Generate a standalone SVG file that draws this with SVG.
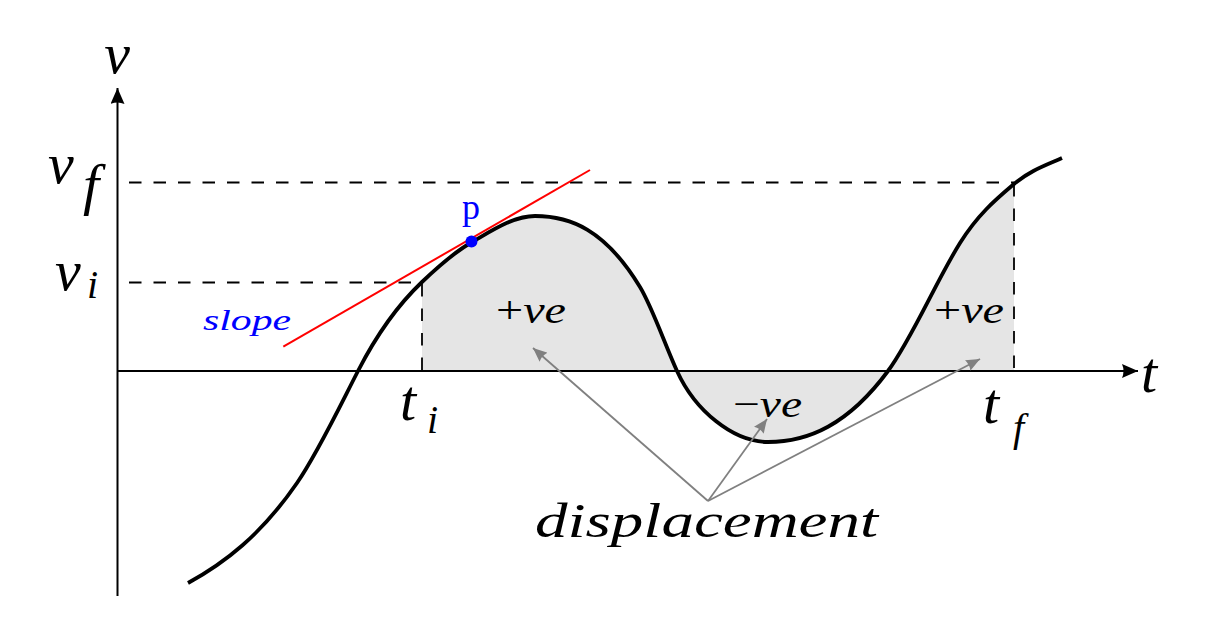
<svg xmlns="http://www.w3.org/2000/svg" width="1219" height="632" viewBox="0 0 1219 632">
<style>
.dash{stroke:#000;stroke-width:1.8;stroke-dasharray:12.5 12;fill:none}
.axis{stroke:#000;stroke-width:2;fill:none}
.curve{stroke:#000;stroke-width:3.8;fill:none;stroke-linejoin:round}
.ptr{stroke:#808080;stroke-width:1.8;fill:none}
.lbl{font-family:"Liberation Serif","DejaVu Serif",serif;font-style:italic}
</style>
<defs>
<marker id="axarr" markerUnits="userSpaceOnUse" markerWidth="18" markerHeight="14" refX="16" refY="7" orient="auto">
<path d="M0,0 L16,7 L0,14 Q3,7 0,0 z" fill="#000"/>
</marker>
<marker id="grarr" markerUnits="userSpaceOnUse" markerWidth="15" markerHeight="12" refX="14" refY="6" orient="auto">
<path d="M0,0 L14,6 L0,12 Q2.5,6 0,0 z" fill="#808080"/>
</marker>
</defs>
<rect width="1219" height="632" fill="#fff"/>

<g id="area">
<path d="M422,371 L422,282 C438.7,266.1 455.3,251.6 472,242 C493,229.9 514,216 535,216 C570,216 605,229.25 640,287 C652.3,307.4 664.7,343.9 677,371 C695,410.6 733,442 768,442 C808,442 848,425 888,371 C912,338.6 936,281.4 960,243 C978,214.2 996,199.3 1014,184 L1014,371 Z" fill="#e5e5e5"/>
</g>

<g id="guides">
<line class="dash" x1="129" y1="182.5" x2="1014" y2="182.5"/>
<line class="dash" x1="129" y1="282.5" x2="422" y2="282.5"/>
<line class="dash" x1="422" y1="284" x2="422" y2="371"/>
<line class="dash" x1="1014" y1="184" x2="1014" y2="371"/>
</g>

<g id="axes">
<line class="axis" x1="117.5" y1="596" x2="117.5" y2="88" marker-end="url(#axarr)"/>
<line class="axis" x1="117" y1="371" x2="1138" y2="371" marker-end="url(#axarr)"/>
</g>

<g id="curve">
<path class="curve" d="M188,583 C224.3,563 260.7,535.6 297,483 C317.3,453.5 337.7,410.6 358,371 C379.3,329.5 400.7,302.2 422,282 C438.7,266.1 455.3,251.6 472,242 C493,229.9 514,216 535,216 C570,216 605,229.25 640,287 C652.3,307.4 664.7,343.9 677,371 C695,410.6 733,442 768,442 C808,442 848,425 888,371 C912,338.6 936,281.4 960,243 C978,214.2 996,199.3 1014,184 C1030,170.4 1046,165.2 1062,158"/>
</g>

<g id="tangent">
<line x1="283.3" y1="346.7" x2="590" y2="170" stroke="#ff0000" stroke-width="2"/>
<circle cx="471.5" cy="241.5" r="6" fill="#0000ff"/>
</g>

<g id="labels" class="lbl" fill="#000">
<text x="117" y="73" font-size="58" text-anchor="middle">v</text>
<text x="1141" y="392" font-size="58">t</text>
<text x="48" y="183" font-size="58">v</text>
<text x="83" y="204" font-size="58">f</text>
<text x="55" y="290" font-size="58">v</text>
<text x="87" y="298" font-size="40">i</text>
<text x="400" y="420" font-size="58">t</text>
<text x="427" y="433" font-size="40">i</text>
<text x="983" y="423" font-size="58">t</text>
<text x="1013" y="441" font-size="40">f</text>
<text x="471" y="219" font-size="36" font-style="normal" style="font-style:normal" fill="#0000ff" text-anchor="middle">p</text>
<text x="203" y="330" font-size="30" fill="#0000ff" textLength="88" lengthAdjust="spacingAndGlyphs">slope</text>
<text x="496" y="323" font-size="38" textLength="70" lengthAdjust="spacingAndGlyphs"><tspan style="font-style:normal">+</tspan>ve</text>
<text x="934" y="323" font-size="38" textLength="70" lengthAdjust="spacingAndGlyphs"><tspan style="font-style:normal">+</tspan>ve</text>
<text x="733" y="417" font-size="38" textLength="69" lengthAdjust="spacingAndGlyphs"><tspan style="font-style:normal">−</tspan>ve</text>
</g>

<g id="connectors">
<line class="ptr" x1="708" y1="501" x2="533" y2="348" marker-end="url(#grarr)"/>
<line class="ptr" x1="708" y1="501" x2="767" y2="419" marker-end="url(#grarr)"/>
<line class="ptr" x1="708" y1="501" x2="980" y2="359" marker-end="url(#grarr)"/>
</g>

<g id="displacement" class="lbl">
<text x="535" y="537" font-size="48" textLength="343" lengthAdjust="spacingAndGlyphs">displacement</text>
</g>
</svg>
